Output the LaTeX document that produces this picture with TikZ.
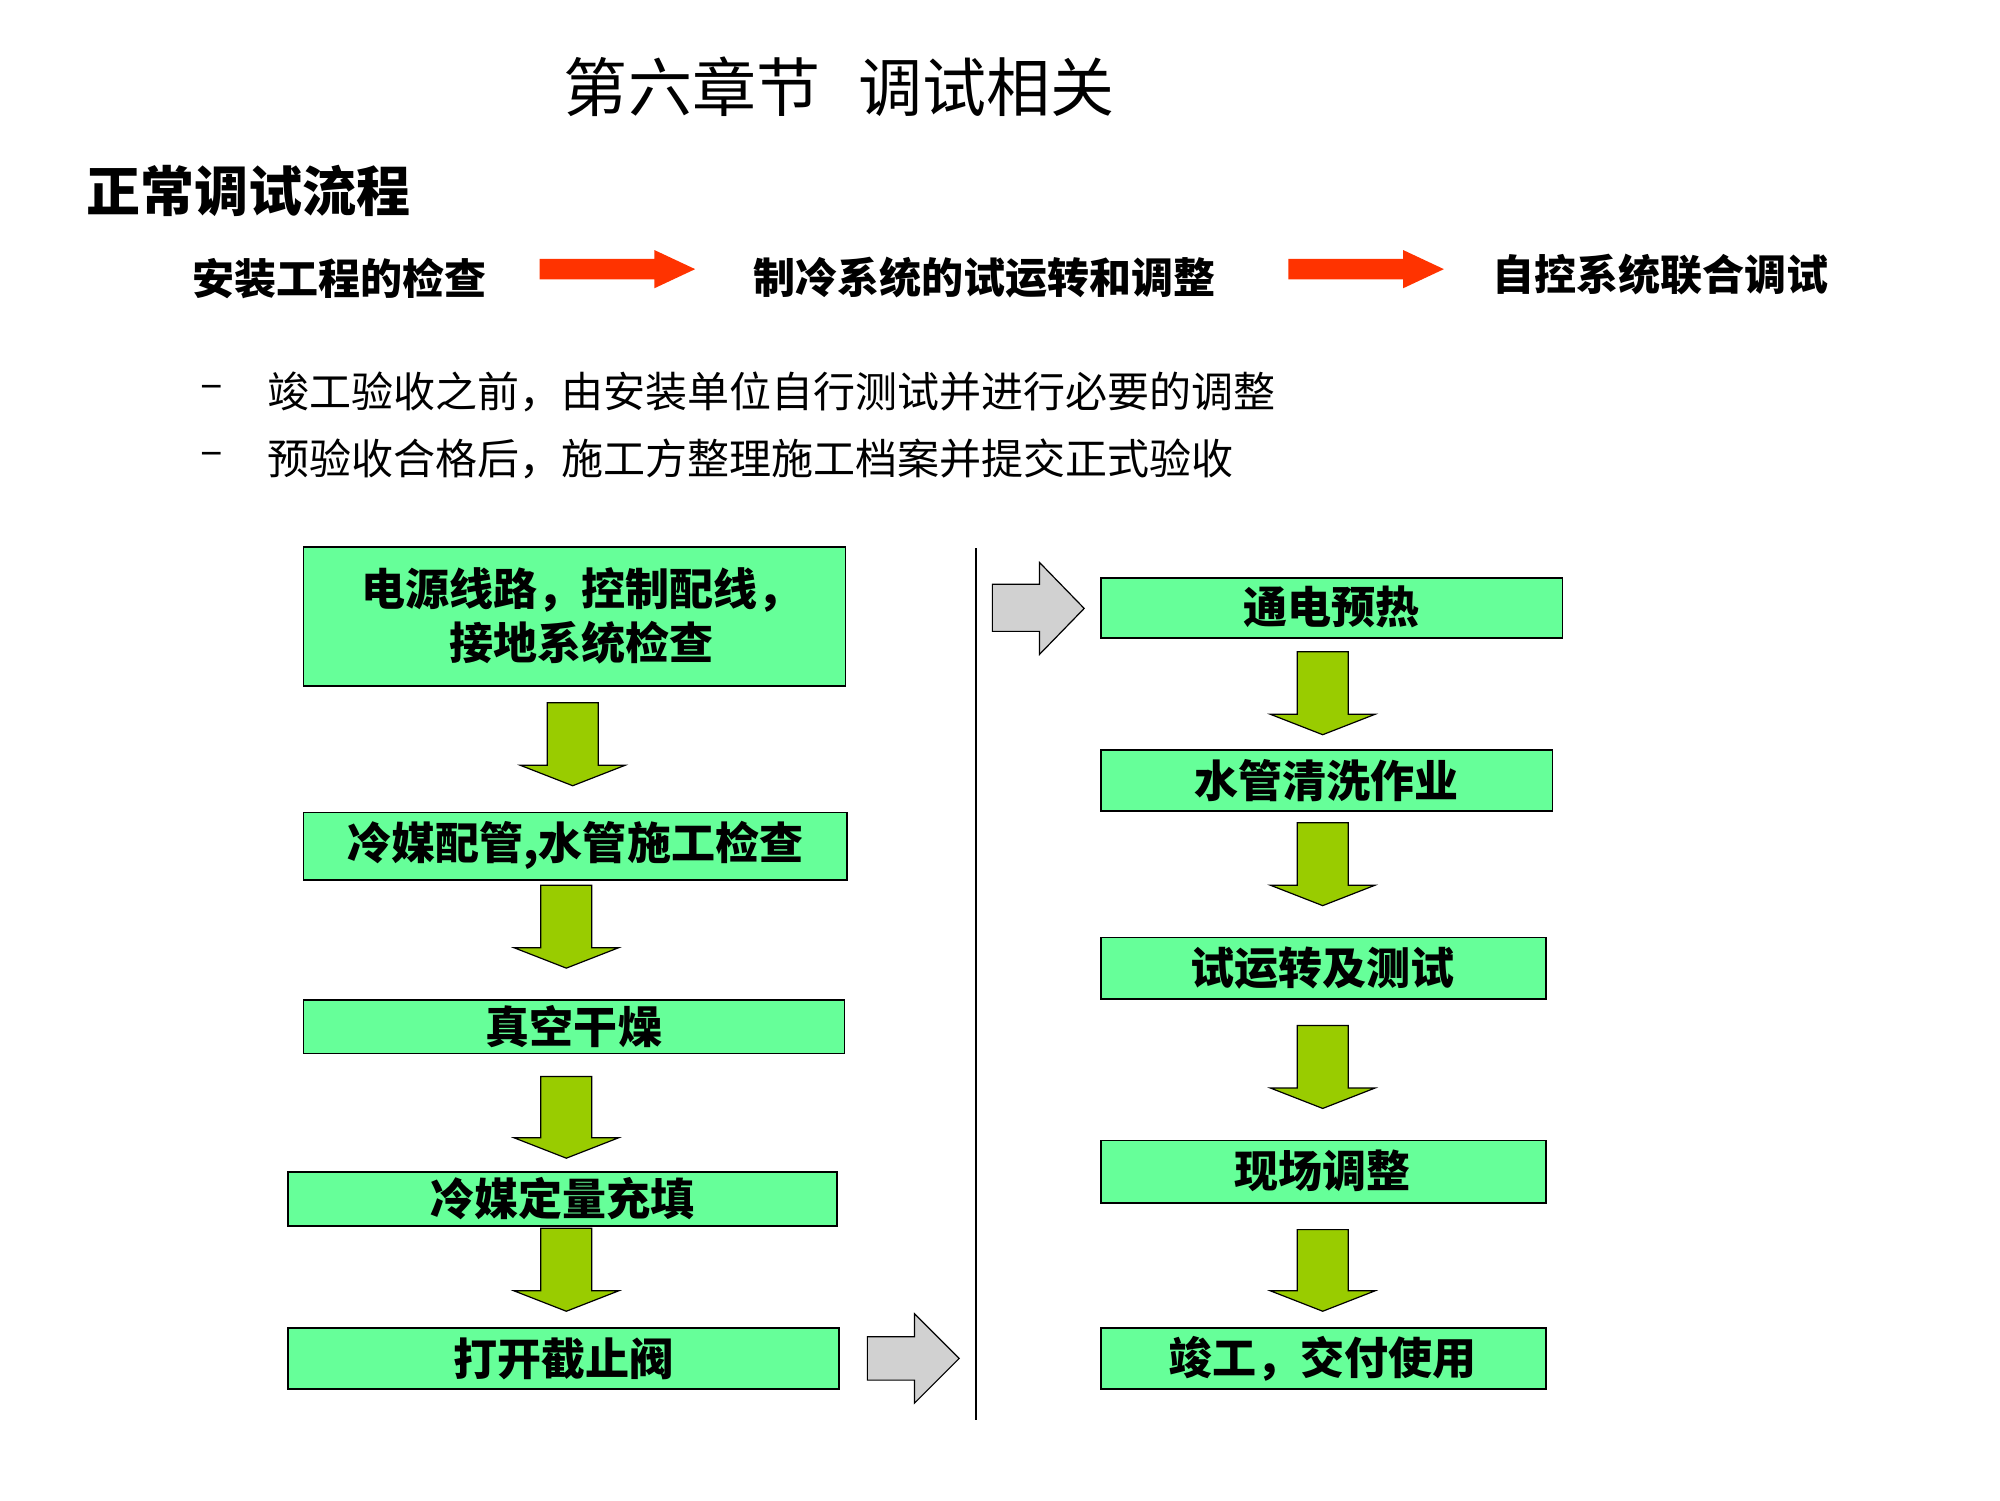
\documentclass[tikz,border=0pt]{standalone}
\usepackage{fontspec}
\setmainfont{Noto Sans CJK SC}
\begin{document}
\begin{tikzpicture}[x=0.6375pt,y=-0.6375pt,
  gbox/.style={draw=black,line width=0.8pt,fill=boxgreen},
  btxt/.style={font=\fontsize{22}{27}\selectfont\bfseries,align=center},
  garrow/.style={draw=black,line width=0.6pt,fill=arrgreen},
  gray arrow/.style={draw=black,line width=0.6pt,fill=black!18}]
\definecolor{boxgreen}{HTML}{66FF99}
\definecolor{arrgreen}{HTML}{99CC00}
\definecolor{redarr}{HTML}{FF3300}
\useasboundingbox (0,0) rectangle (1568,1176);
\node (title) at (658,68) {\fontsize{32}{36}\selectfont 第六章节\hspace{0.6em}调试相关};
\node[anchor=west] (sub) at (62,150) {\fontsize{27}{30}\selectfont\bfseries 正常调试流程};
\node (s1) at (266,218) {\fontsize{21}{24}\selectfont\bfseries 安装工程的检查};
\node (s2) at (772,218) {\fontsize{21}{24}\selectfont\bfseries 制冷系统的试运转和调整};
\node (s3) at (1302,215) {\fontsize{21}{24}\selectfont\bfseries 自控系统联合调试};
\foreach \x in {423,1010}{
 \fill[redarr] (\x,203)--(\x+90,203)--(\x+90,196)--(\x+122,211)--(\x+90,226)--(\x+90,219)--(\x,219)--cycle;}
\node[anchor=west] (d1) at (152,307) {\fontsize{21}{26}\selectfont –};
\node[anchor=west] (b1) at (204,307) {\fontsize{21}{26}\selectfont 竣工验收之前，由安装单位自行测试并进行必要的调整};
\node[anchor=west] (d2) at (152,360) {\fontsize{21}{26}\selectfont –};
\node[anchor=west] (b2) at (204,360) {\fontsize{21}{26}\selectfont 预验收合格后，施工方整理施工档案并提交正式验收};
% left boxes
\draw[gbox] (238,429) rectangle (663,538);
\node[btxt] (L1) at (456,483) {电源线路，控制配线，\\接地系统检查};
\draw[gbox] (238,637) rectangle (664,690);
\node[btxt] (L2) at (451,663) {冷媒配管,水管施工检查};
\draw[gbox] (238,784) rectangle (662,826);
\node[btxt] (L3) at (450,805) {真空干燥};
\draw[gbox] (226,919) rectangle (656,961);
\node[btxt] (L4) at (441,940) {冷媒定量充填};
\draw[gbox] (226,1041) rectangle (658,1089);
\node[btxt] (L5) at (442,1065) {打开截止阀};
% right boxes
\draw[gbox] (863,453) rectangle (1225,500);
\node[btxt] (R1) at (1044,476) {通电预热};
\draw[gbox] (863,588) rectangle (1217,636);
\node[btxt] (R2) at (1040,612) {水管清洗作业};
\draw[gbox] (863,735) rectangle (1212,783);
\node[btxt] (R3) at (1037,759) {试运转及测试};
\draw[gbox] (863,894) rectangle (1212,943);
\node[btxt] (R4) at (1037,918) {现场调整};
\draw[gbox] (863,1041) rectangle (1212,1089);
\node[btxt] (R5) at (1037,1065) {竣工，交付使用};
% green down arrows: center, top, shaft bottom, tip
\foreach \c/\t/\s/\p in {449/551/600/616, 444/694/743/759, 444/844/892/908, 444/963/1012/1028,
  1037/511/560/576, 1037/645/694/710, 1037/804/853/869, 1037/964/1012/1028}{
 \draw[garrow] (\c-20,\t)--(\c+20,\t)--(\c+20,\s)--(\c+41,\s)--(\c,\p)--(\c-41,\s)--(\c-20,\s)--cycle;}
% gray arrows
\draw[gray arrow] (680,1048)--(717,1048)--(717,1030)--(752,1065)--(717,1100)--(717,1082)--(680,1082)--cycle;
\draw[gray arrow] (778,458)--(815,458)--(815,441)--(850,477)--(815,513)--(815,495)--(778,495)--cycle;
\draw[line width=0.8pt] (765,430)--(765,1113);
\end{tikzpicture}
\end{document}
